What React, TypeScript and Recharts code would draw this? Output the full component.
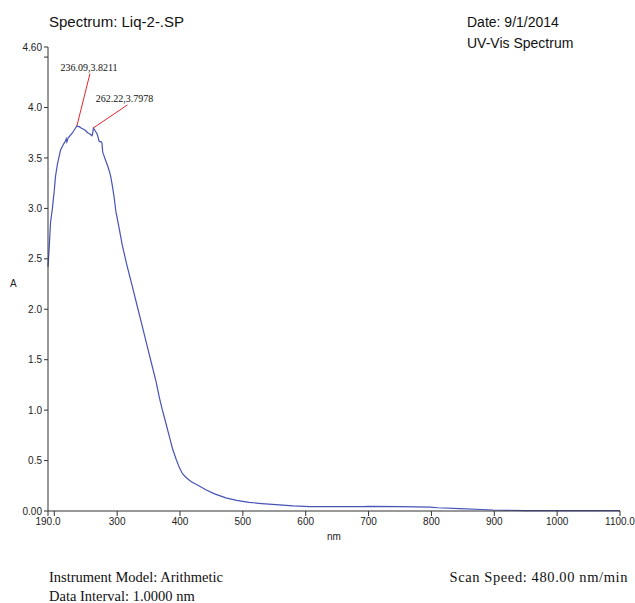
import { LineChart, Line, XAxis, YAxis, ReferenceDot } from 'recharts';

// wavelength (nm) and absorbance (A)
const wavelengths = [
  190, 192, 194, 197, 200, 202, 205, 210, 215, 218, 219, 220, 222, 225, 229, 232,
  236.09, 238, 240, 242, 245, 248, 250, 253, 256, 258, 260, 261, 262.22, 264, 266,
  268, 270, 271, 273, 275, 276, 277, 278, 282, 285, 288, 290, 293, 295, 298, 303,
  308, 315, 324, 332, 340, 348, 356, 362, 367, 372, 378, 383, 388, 394, 399, 404,
  410, 418, 430, 441, 455, 473, 490, 510, 530, 558, 580, 606, 650, 691, 700, 750,
  798, 810, 845, 880, 898, 950, 1000, 1100,
];
const absorbance = [
  2.42, 2.62, 2.86, 3.0, 3.18, 3.32, 3.44, 3.58, 3.64, 3.67, 3.69, 3.66, 3.7, 3.72, 3.75, 3.78,
  3.8211, 3.81, 3.81, 3.8, 3.79, 3.78, 3.77, 3.75, 3.74, 3.73, 3.72, 3.74, 3.7978, 3.78, 3.76,
  3.74, 3.7, 3.67, 3.66, 3.66, 3.64, 3.56, 3.54, 3.47, 3.42, 3.36, 3.31, 3.2, 3.12, 2.97, 2.81,
  2.64, 2.45, 2.23, 2.03, 1.83, 1.63, 1.43, 1.28, 1.13, 1.0, 0.86, 0.74, 0.62, 0.51, 0.43, 0.37,
  0.33, 0.29, 0.25, 0.21, 0.17, 0.13, 0.105, 0.086, 0.074, 0.06, 0.05, 0.044, 0.043, 0.043, 0.045, 0.043,
  0.038, 0.032, 0.024, 0.015, 0.01, 0.004, 0.003, 0.004,
];

const xTicks = [190, 200, 300, 400, 500, 600, 700, 800, 900, 1000, 1100];
const yTicks = [0, 0.5, 1.0, 1.5, 2.0, 2.5, 3.0, 3.5, 4.0, 4.5, 4.6];

const peakNm = [236.09, 262.22];
const peakA = [3.8211, 3.7978];
const peakLabels = ['236.09,3.8211', '262.22,3.7978'];

const data = wavelengths.map((nm, i) => ({ nm, a: absorbance[i] }));

// leader line offsets (px) for each peak label
const leader = [
  { dx: 13, dy: -52, tx: 12, ty: -55 },
  { dx: 34, dy: -23, tx: 31, ty: -26 },
];

const fmtX = (v: number) => (v === 190 ? '190.0' : v === 1100 ? '1100.0' : v === 200 ? '' : String(v));
const fmtY = (v: number) => (v === 0 ? '0.00' : v === 4.6 ? '4.60' : v === 4.5 ? '' : v.toFixed(1));

const tickStyle = { fontSize: 10, fill: '#222', fontFamily: 'Liberation Sans, Arial, sans-serif' };
const sans = 'Liberation Sans, Arial, sans-serif';
const serif = 'Liberation Serif, Times New Roman, serif';

function PeakMark(props: any) {
  const { cx, cy, idx } = props;
  const l = leader[idx];
  return (
    <g>
      <line x1={cx} y1={cy} x2={cx + l.dx} y2={cy + l.dy} stroke="#e8262a" strokeWidth={1} />
      <text x={cx + l.tx} y={cy + l.ty} textAnchor="middle" fontSize={10} fontFamily={serif} fill="#111">
        {peakLabels[idx]}
      </text>
    </g>
  );
}

export default function App() {
  return (
    <div style={{ position: 'absolute', left: 0, top: 0, width: 635, height: 603, background: '#fff', overflow: 'hidden' }}>
      <LineChart width={635} height={603} data={data} margin={{ top: 47, right: 15, bottom: 62, left: 8 }}>
        <XAxis
          dataKey="nm"
          type="number"
          domain={[190, 1100]}
          ticks={xTicks}
          tickFormatter={fmtX}
          interval={0}
          tick={tickStyle}
          tickSize={5}
          height={30}
          stroke="#333"
        />
        <YAxis
          type="number"
          domain={[0, 4.6]}
          ticks={yTicks}
          tickFormatter={fmtY}
          interval={0}
          tick={tickStyle}
          tickSize={4}
          width={40}
          stroke="#333"
        />
        <Line
          type="linear"
          dataKey="a"
          stroke="#4653b8"
          strokeWidth={1.2}
          dot={false}
          isAnimationActive={false}
        />
        {peakNm.map((nm, i) => (
          <ReferenceDot key={i} x={nm} y={peakA[i]} r={0} shape={(p: any) => <PeakMark {...p} idx={i} />} />
        ))}
      </LineChart>
      <div style={{ position: 'absolute', left: 49, top: 13, fontFamily: sans, fontSize: 15, color: '#111' }}>
        Spectrum: Liq-2-.SP
      </div>
      <div style={{ position: 'absolute', left: 467, top: 12, fontFamily: sans, fontSize: 14, color: '#111', lineHeight: '21px' }}>
        Date: 9/1/2014
        <br />
        UV-Vis Spectrum
      </div>
      <div style={{ position: 'absolute', left: 10, top: 278, fontFamily: sans, fontSize: 10, color: '#222' }}>A</div>
      <div style={{ position: 'absolute', left: 327, top: 531, fontFamily: sans, fontSize: 10, color: '#222' }}>nm</div>
      <div style={{ position: 'absolute', left: 49, top: 570, fontFamily: serif, fontSize: 14.5, color: '#111', lineHeight: '14px' }}>
        Instrument Model: Arithmetic
      </div>
      <div style={{ position: 'absolute', left: 49, top: 590, fontFamily: serif, fontSize: 14.5, color: '#111', lineHeight: '13px' }}>
        Data Interval: 1.0000 nm
      </div>
      <div style={{ position: 'absolute', right: 7, top: 570, fontFamily: serif, fontSize: 14.5, color: '#111', lineHeight: '14px', letterSpacing: 0.6 }}>
        Scan Speed: 480.00 nm/min
      </div>
    </div>
  );
}
